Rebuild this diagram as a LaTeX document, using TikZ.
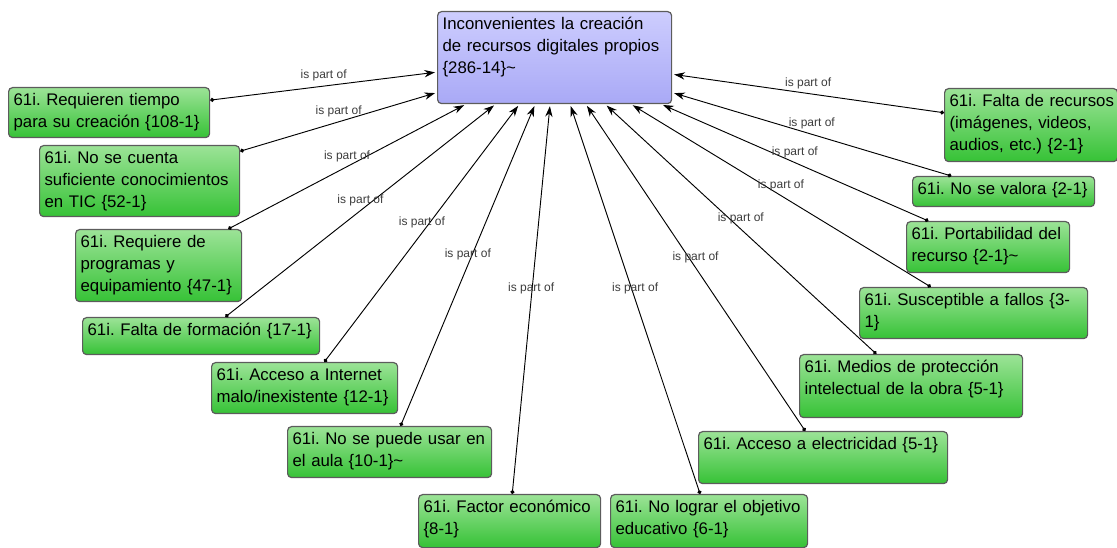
\documentclass[tikz,border=0pt]{standalone}
\usepackage{fontspec}
\setmainfont{Liberation Sans}
\usetikzlibrary{arrows.meta}

\definecolor{gtop}{HTML}{9CE397}
\definecolor{gbot}{HTML}{36C236}
\definecolor{btop}{HTML}{CDCDFE}
\definecolor{bbot}{HTML}{A9A9F6}
\definecolor{frame}{HTML}{5C5C5C}
\definecolor{labgray}{HTML}{3C3C3C}

\frenchspacing
\hyphenpenalty=10000
\exhyphenpenalty=10000
\hbadness=10000
\hfuzz=40pt

% one unbreakable line of a box text
\newcommand\bl[1]{\mbox{#1}}

\tikzset{
  % box size in px: width, height
  boxsize/.code 2 args={%
    \pgfmathsetlengthmacro\boxtw{(#1-10)*0.75pt}%
    \pgfmathsetlengthmacro\boxtd{(#2-21)*0.75pt}%
    \edef\next{\noexpand\tikzset{text width=\boxtw,text depth=\boxtd}}\next},
  card/.style={draw=frame, line width=0.9pt, rounded corners=3pt,
    anchor=north west, align=left, inner xsep=3.75pt, inner ysep=2.25pt,
    text height=11.25pt,
    font=\fontsize{12.6}{16.4}\selectfont\frenchspacing, text=black},
  code/.style={card, top color=gtop, bottom color=gbot},
  topic/.style={card, top color=btop, bottom color=bbot},
  conn/.style={draw=black, line width=0.7pt,
    {Circle[length=3pt]}-{Stealth[length=8pt,width=5.5pt]}, shorten >=1.5pt},
  lab/.style={midway, yshift=7.9pt, font=\fontsize{9}{10}\selectfont,
    text=labgray, inner sep=0pt},
}

\begin{document}
\begin{tikzpicture}[x=0.75pt,y=-0.75pt]
\useasboundingbox (0,0) rectangle (1117,548);

% central topic
\node[topic, boxsize={234}{92}] (c) at (437,11)
  {\bl{Inconvenientes la creación}\\\bl{de recursos digitales propios}\\\bl{\{286-14\}\textasciitilde}};

% codes
\node[code, boxsize={201}{50}] (b1) at (8,87)
  {\bl{61i. Requieren tiempo}\\\bl{para su creación \{108-1\}}};
\node[code, boxsize={200}{71}] (b2) at (39,145)
  {\bl{61i. No se cuenta}\\\bl{suficiente conocimientos}\\\bl{en TIC \{52-1\}}};
\node[code, boxsize={166}{72}] (b3) at (75,229)
  {\bl{61i. Requiere de}\\\bl{programas y}\\\bl{equipamiento \{47-1\}}};
\node[code, boxsize={237}{37}] (b4) at (82,317)
  {\bl{61i. Falta de formación \{17-1\}}};
\node[code, boxsize={186}{51}] (b5) at (211,362)
  {\bl{61i. Acceso a Internet}\\\bl{malo/inexistente \{12-1\}}};
\node[code, boxsize={204}{51}] (b6) at (287,426)
  {\bl{61i. No se puede usar en}\\\bl{el aula \{10-1\}\textasciitilde}};
\node[code, boxsize={182}{53}] (b7) at (418,494)
  {\bl{61i. Factor económico}\\\bl{\{8-1\}}};
\node[code, boxsize={197}{53}] (b8) at (610,494)
  {\bl{61i. No lograr el objetivo}\\\bl{educativo \{6-1\}}};
\node[code, boxsize={249}{52}] (b9) at (698,431)
  {\bl{61i. Acceso a electricidad \{5-1\}}};
\node[code, boxsize={223}{63}] (b10) at (799,354)
  {\bl{61i. Medios de protección}\\\bl{intelectual de la obra \{5-1\}}};
\node[code, boxsize={228}{51}] (b11) at (859,287)
  {\bl{61i. Susceptible a fallos \{3-}\\\bl{1\}}};
\node[code, boxsize={163}{51}] (b12) at (906,221)
  {\bl{61i. Portabilidad del}\\\bl{recurso \{2-1\}\textasciitilde}};
\node[code, boxsize={182}{30}] (b13) at (912,176)
  {\bl{61i. No se valora \{2-1\}}};
\node[code, boxsize={173}{73}] (b14) at (944,88)
  {\bl{61i. Falta de recursos}\\\bl{(imágenes, videos,}\\\bl{audios, etc.) \{2-1\}}};

% relations
\foreach \b in {b1,b2,b3,b4,b5,b6,b7,b8,b9,b10,b11,b12,b13,b14}
  \draw[conn] (\b) -- (c) node[lab] {is part of};
\end{tikzpicture}
\end{document}
